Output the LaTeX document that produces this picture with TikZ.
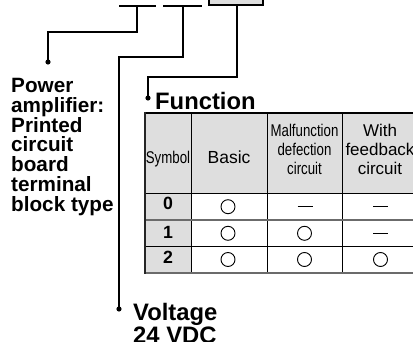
\documentclass[tikz,border=0pt]{standalone}
\usepackage{fontspec}
\setmainfont{Liberation Sans}
\newfontfamily\condfont[FakeStretch=0.78]{Liberation Sans}
\definecolor{cellgray}{gray}{0.87}
\definecolor{rulegray}{gray}{0.42}
\begin{document}
\begin{tikzpicture}[x=1pt,y=-1pt,
  conn/.style={line width=1.7pt},
  dotn/.style={circle,fill=black,inner sep=0pt,minimum size=5.2pt},
  biglbl/.style={inner sep=0pt,anchor=base west,align=left,font=\bfseries\fontsize{23.8}{24}\selectfont},
  sidelbl/.style={inner sep=0pt,anchor=base west,align=left,font=\bfseries\fontsize{20.7}{20}\selectfont},
  hcond/.style={inner sep=0pt,anchor=base,align=center,font=\condfont\fontsize{17}{18.7}\selectfont},
  hreg/.style={inner sep=0pt,anchor=base,align=center,font=\fontsize{17}{19}\selectfont},
  digit/.style={inner sep=0pt,anchor=base,font=\bfseries\fontsize{17.7}{18}\selectfont},
  circmk/.style={circle,draw=black,line width=0.9pt,inner sep=0pt,minimum size=14pt},
  dashmk/.style={line width=1pt},
  vrule/.style={line width=1pt},
]
\useasboundingbox (0,0) rectangle (413,342);
\clip (0,0) rectangle (413,342);

% top code boxes
\draw[line width=1.8pt] (119,6) -- (156,6);
\draw[line width=1.8pt] (163,6) -- (202,6);
\node[draw,fill=cellgray,line width=1.8pt,minimum width=54pt,minimum height=22pt,inner sep=0pt,anchor=south west] (fbox) at (208,6) {};

\coordinate (s1) at (137,6);
\coordinate (s2) at (183,6);
\coordinate (s3) at (237,6);

% dots
\node[dotn] (p1) at (48,62) {};
\node[dotn] (p2) at (119,309) {};
\node[dotn] (p3) at (148,98) {};

% connectors
\draw[conn] (s1) -- ++(0,26) -| (p1.center);
\draw[conn] (s2) -- ++(0,51) -| (p2.center);
\draw[conn] (s3) -- ++(0,71) -| (p3.center);

% labels (base anchor = baseline of the last line)
\node[sidelbl] (pa) at (11,212) {Power\\amplifier:\\Printed\\circuit\\board\\terminal\\block type};
\node[biglbl] (fn) at (155,110) {Function};
\node[biglbl] (volt) at (133,344) {Voltage\\24 VDC};

% table fills
\fill[cellgray] (145,113) rectangle (420,193);
\fill[cellgray] (145,193) rectangle (191,273);

% table rules
\draw[vrule] (191,113) -- (191,273);
\draw[vrule] (267,113) -- (267,273);
\draw[vrule] (342,113) -- (342,273);
\draw[line width=0.9pt] (145,193.3) -- (420,193.3);
\draw[line width=1.6pt,rulegray] (145,220) -- (420,220);
\draw[line width=0.9pt] (145,246.7) -- (420,246.7);
\draw[line width=1.6pt,rulegray] (145,273) -- (420,273);
\draw[line width=2pt] (144,113) -- (420,113);
\draw[line width=1.8pt,black!85] (145,112) -- (145,274);

% header texts
\node[hcond] (hsym) at (168,164) {Symbol};
\node[hreg,font=\fontsize{17.5}{19}\selectfont] (hbas) at (229,164) {Basic};
\node[hcond] (hmal) at (304.5,174.4) {Malfunction\\defection\\circuit};
\node[hreg] (hfb) at (380,175) {With\\feedback\\circuit};

% symbols column
\node[digit] (r0) at (168,209.5) {0};
\node[digit] (r1) at (168,238.5) {1};
\node[digit] (r2) at (168,264) {2};

% row 0
\node[circmk] (c0b) at (228,206.7) {};
\draw[dashmk] (297.5,206.7) -- (312.5,206.7);
\draw[dashmk] (373,206.7) -- (388,206.7);
% row 1
\node[circmk] (c1b) at (228,233.3) {};
\node[circmk] (c1m) at (304.5,233.3) {};
\draw[dashmk] (373,233.3) -- (388,233.3);
% row 2
\node[circmk] (c2b) at (228,259.5) {};
\node[circmk] (c2m) at (304.5,259.5) {};
\node[circmk] (c2f) at (380.5,259.5) {};
\end{tikzpicture}
\end{document}
